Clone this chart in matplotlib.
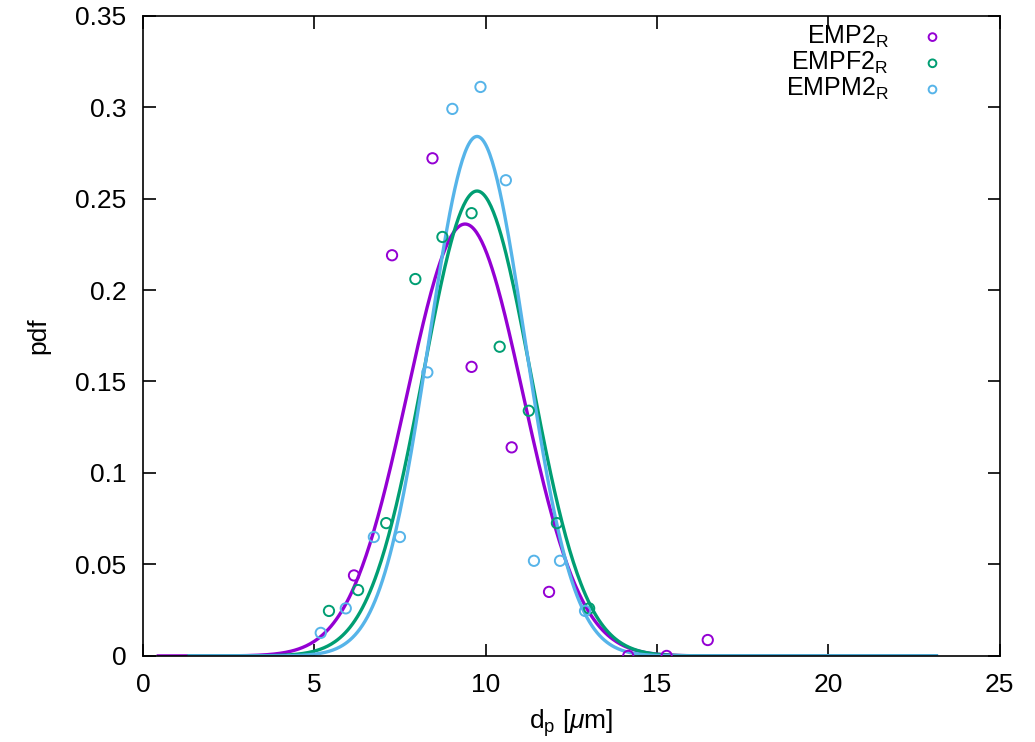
import numpy as np
import matplotlib
matplotlib.use("Agg")
import matplotlib.pyplot as plt

plt.rcParams['font.family'] = ['Liberation Sans', 'DejaVu Sans']
plt.rcParams['mathtext.fontset'] = 'custom'
plt.rcParams['mathtext.rm'] = 'Liberation Sans'
plt.rcParams['mathtext.it'] = 'Liberation Sans:italic'

# Datos medidos (d_p en um, pdf)
emp2_x = [6.16, 7.27, 8.45, 9.59, 10.76, 11.85, 14.16, 15.28, 16.48]
emp2_y = [0.044, 0.219, 0.272, 0.158, 0.114, 0.035, 0.0, 0.0, 0.0087]

empf2_x = [5.43, 6.28, 7.10, 7.95, 8.74, 9.59, 10.41, 11.26, 12.08, 13.02]
empf2_y = [0.0246, 0.036, 0.0726, 0.206, 0.229, 0.242, 0.169, 0.134, 0.0726, 0.026]

empm2_x = [5.19, 5.92, 6.74, 7.50, 8.30, 9.03, 9.85, 10.59, 11.41, 12.17, 12.90]
empm2_y = [0.0126, 0.026, 0.065, 0.065, 0.155, 0.299, 0.311, 0.26, 0.052, 0.052, 0.0246]

# Parametros del ajuste normal (media, sigma, rango)
fit_mu = [9.40, 9.75, 9.75]
fit_sigma = [1.69, 1.57, 1.405]
fit_xmin = [0.45, 1.35, 1.35]
fit_xmax = [23.15, 23.15, 23.15]

labels = [r'EMP2$_\mathregular{R}$', r'EMPF2$_\mathregular{R}$', r'EMPM2$_\mathregular{R}$']
colors = ['#9400d3', '#009e73', '#56b4e9']

fig = plt.figure(figsize=(10.35, 7.42), dpi=100)
ax = fig.add_axes([0.138, 0.116, 0.828, 0.863])

series = [(emp2_x, emp2_y), (empf2_x, empf2_y), (empm2_x, empm2_y)]
for i, (xs, ys) in enumerate(series):
    ax.scatter(xs, ys, s=55, facecolors='none', edgecolors=colors[i],
               linewidths=1.4, label=labels[i], zorder=3)

for i in range(3):
    xx = np.linspace(fit_xmin[i], fit_xmax[i], 600)
    yy = np.exp(-0.5 * ((xx - fit_mu[i]) / fit_sigma[i]) ** 2) / (fit_sigma[i] * np.sqrt(2 * np.pi))
    ax.plot(xx, yy, color=colors[i], lw=2.4, zorder=2)

ax.set_xlim(0, 25)
ax.set_ylim(0, 0.35)
ax.set_xticks([0, 5, 10, 15, 20, 25])
ax.set_yticks([0, 0.05, 0.1, 0.15, 0.2, 0.25, 0.3, 0.35])
ax.set_yticklabels(['0', '0.05', '0.1', '0.15', '0.2', '0.25', '0.3', '0.35'])
ax.tick_params(direction='in', length=9, width=1.2, labelsize=19, top=True, right=True, pad=12)
for sp in ax.spines.values():
    sp.set_linewidth(1.2)

ax.set_xlabel(r'd$_\mathregular{p}$ [$\mathit{\mu}$m]', fontsize=19, labelpad=8)
ax.set_ylabel('pdf', fontsize=19, labelpad=18)

leg = ax.legend(loc='upper right', markerfirst=False, frameon=False, fontsize=18,
                handletextpad=1.0, labelspacing=0.0, borderaxespad=0.0,
                bbox_to_anchor=(0.955, 1.003), handlelength=1.5, scatterpoints=1,
                markerscale=0.75)
for col in leg._legend_handle_box.get_children():
    col.align = 'right'

fig.savefig('out.png', dpi=100)
